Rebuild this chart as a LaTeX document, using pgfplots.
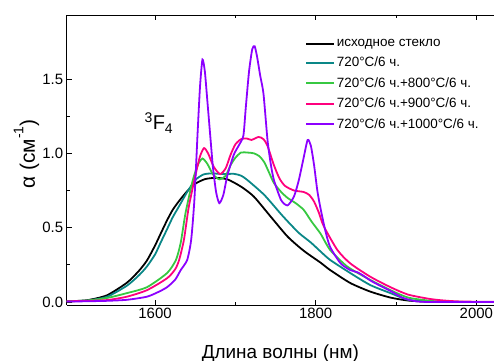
\documentclass[border=0pt]{standalone}
\usepackage{pgfplots}
\pgfplotsset{compat=1.18}
\usepackage{fontspec}
\setmainfont{Liberation Sans}
\definecolor{cteal}{RGB}{10,135,135}
\definecolor{cgreen}{RGB}{55,200,65}
\definecolor{cpink}{RGB}{255,0,125}
\definecolor{cpurple}{RGB}{140,0,255}
\begin{document}
\begin{tikzpicture}
\useasboundingbox (-66.7bp,-56bp) rectangle (427.3bp,305bp);
\begin{axis}[
  at={(0,0)}, anchor=south west,
  width=427.3bp, height=290bp, scale only axis,
  xmin=1490, xmax=2022, ymin=-0.02, ymax=1.93,
  axis x line*=box, axis y line*=left,
  axis line style={-, line width=0.8pt},
  xtick={1600,1800,2000}, minor x tick num=1,
  ytick={0,0.5,1,1.5}, minor y tick num=1,
  tick align=inside,
  major tick length=5bp, minor tick length=3bp,
  every tick/.style={black, line width=0.7pt},
  /pgf/number format/assume math mode=true,
  /pgf/number format/1000 sep={},
  yticklabel style={/pgf/number format/fixed, /pgf/number format/fixed zerofill, /pgf/number format/precision=1},
  tick label style={font=\fontsize{15}{18}\selectfont},
  xlabel={Длина волны (нм)},
  xlabel style={font=\fontsize{19}{22}\selectfont, at={(axis description cs:0.5,0)}, anchor=base, yshift=-53bp},
  ylabel={α (см\raisebox{0.55em}{\fontsize{14}{16}\selectfont -1})},
  ylabel style={font=\fontsize{21}{24}\selectfont, at={(axis description cs:-0.0742,0.521)}, anchor=base, rotate=0},
  legend style={at={(axis description cs:0.558,0.922)}, anchor=north west, draw=none, fill=none,
    font=\fontsize{13.5}{16}\selectfont, inner sep=0pt, row sep=6.2bp,
    nodes={inner sep=1.5bp}},
  legend cell align=left,
  legend image code/.code={\draw[#1, line width=2pt] (0bp,0bp) -- (28bp,0bp);},
  every axis plot/.append style={line width=1.8pt, smooth, tension=0.4},
]
\addplot[black, line width=1.8pt] coordinates {
(1490,0.005)(1515,0.012)(1540,0.045)(1565,0.13)(1580,0.21)(1590,0.28)(1600,0.38)(1607,0.46)(1615,0.55)(1622,0.62)(1630,0.68)(1640,0.745)(1650,0.795)(1662,0.826)(1675,0.835)(1690,0.825)(1707,0.776)(1723,0.709)(1744,0.574)(1765,0.44)(1785,0.345)(1806,0.265)(1818,0.215)(1843,0.128)(1868,0.07)(1893,0.03)(1915,0.01)(1940,0.002)(1970,0)(2022,0)};
\addlegendentry{исходное стекло}
\addplot[cteal, line width=1.8pt] coordinates {
(1490,0.005)(1515,0.01)(1540,0.035)(1565,0.11)(1580,0.18)(1590,0.24)(1600,0.32)(1607,0.40)(1615,0.49)(1622,0.57)(1630,0.645)(1640,0.74)(1650,0.82)(1660,0.857)(1670,0.865)(1685,0.86)(1698,0.862)(1707,0.85)(1715,0.82)(1736,0.72)(1757,0.59)(1769,0.52)(1780,0.46)(1794,0.40)(1806,0.34)(1818,0.283)(1843,0.195)(1868,0.114)(1893,0.06)(1915,0.015)(1940,0.004)(1970,0)(2022,0)};
\addlegendentry{720°C/6 ч.}
\addplot[cgreen, line width=1.8pt] coordinates {
(1490,0.005)(1515,0.01)(1540,0.027)(1565,0.06)(1590,0.10)(1615,0.195)(1626,0.283)(1632,0.40)(1638,0.60)(1647,0.82)(1654,0.93)(1659,0.965)(1665,0.93)(1672,0.86)(1680,0.825)(1688,0.85)(1694,0.92)(1700,0.97)(1707,1.005)(1715,1.005)(1723,1.0)(1730,0.98)(1736,0.94)(1742,0.87)(1748,0.80)(1757,0.74)(1765,0.70)(1775,0.665)(1785,0.62)(1795,0.54)(1806,0.46)(1818,0.35)(1839,0.24)(1864,0.16)(1893,0.08)(1915,0.03)(1940,0.01)(1960,0.002)(2022,0)};
\addlegendentry{720°C/6 ч.+800°C/6 ч.}
\addplot[cpink, line width=1.8pt] coordinates {
(1490,0.005)(1515,0.008)(1540,0.013)(1565,0.036)(1590,0.08)(1615,0.16)(1625,0.22)(1630,0.283)(1636,0.42)(1642,0.64)(1651,0.87)(1656,0.98)(1661,1.035)(1666,1.00)(1673,0.91)(1681,0.86)(1688,0.90)(1694,0.99)(1700,1.06)(1707,1.095)(1714,1.10)(1720,1.09)(1729,1.11)(1735,1.095)(1740,1.05)(1748,0.92)(1755,0.83)(1762,0.78)(1773,0.75)(1785,0.74)(1792,0.72)(1798,0.675)(1804,0.60)(1810,0.51)(1827,0.35)(1843,0.26)(1868,0.17)(1893,0.10)(1915,0.05)(1943,0.02)(1965,0.008)(1985,0.003)(2022,0.002)};
\addlegendentry{720°C/6 ч.+900°C/6 ч.}
\addplot[cpurple, line width=1.8pt] coordinates {
(1490,0.003)(1515,0.005)(1540,0.008)(1565,0.015)(1590,0.036)(1605,0.07)(1615,0.10)(1625,0.15)(1632,0.215)(1640,0.283)(1645,0.42)(1649,0.69)(1653,1.14)(1656,1.45)(1659,1.63)(1662,1.55)(1665,1.36)(1669,1.10)(1672,0.91)(1676,0.74)(1680,0.665)(1685,0.72)(1690,0.85)(1698,0.99)(1705,1.06)(1710,1.12)(1713,1.31)(1717,1.55)(1721,1.70)(1724,1.72)(1727,1.65)(1731,1.52)(1735,1.40)(1740,1.09)(1744,0.93)(1748,0.82)(1757,0.685)(1765,0.65)(1773,0.71)(1779,0.82)(1785,0.97)(1790,1.09)(1794,1.05)(1798,0.92)(1802,0.75)(1806,0.63)(1812,0.48)(1818,0.37)(1831,0.26)(1843,0.215)(1852,0.20)(1860,0.175)(1868,0.145)(1880,0.11)(1893,0.075)(1909,0.027)(1925,0.005)(1945,0)(2022,0)};
\addlegendentry{720°C/6 ч.+1000°C/6 ч.}
\node[anchor=base west, inner sep=0pt, font=\fontsize{20}{24}\selectfont] at (axis cs:1586.7,1.157) {\textsuperscript{3}F\textsubscript{4}};
\end{axis}
\end{tikzpicture}
\end{document}
